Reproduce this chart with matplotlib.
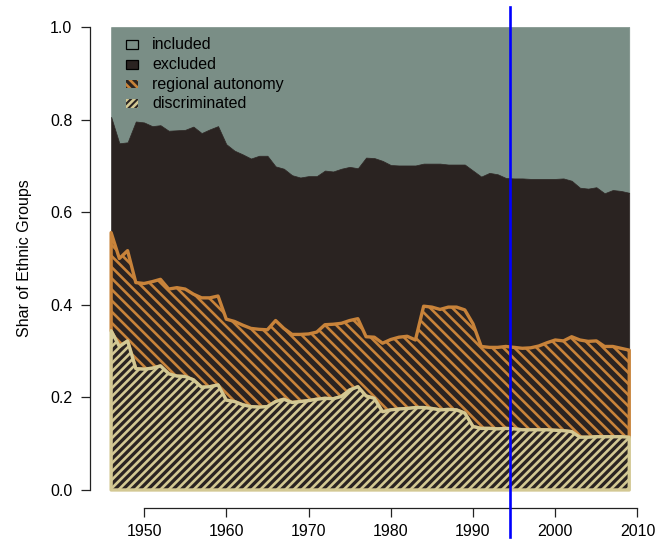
import numpy as np
import matplotlib
matplotlib.use("Agg")
import matplotlib.pyplot as plt
from matplotlib.patches import Rectangle

# Yearly shares of ethnic groups by political status
years = np.arange(1946, 2010)

discriminated = [
    0.344, 0.310, 0.322, 0.262, 0.261, 0.263, 0.268, 0.251, 0.246, 0.245,
    0.238, 0.222, 0.223, 0.227, 0.194, 0.191, 0.184, 0.180, 0.179, 0.180,
    0.191, 0.196, 0.189, 0.191, 0.193, 0.196, 0.198, 0.197, 0.202, 0.216,
    0.223, 0.203, 0.198, 0.169, 0.173, 0.175, 0.176, 0.178, 0.178, 0.176,
    0.173, 0.174, 0.173, 0.166, 0.137, 0.133, 0.133, 0.132, 0.133, 0.132,
    0.130, 0.130, 0.130, 0.130, 0.129, 0.128, 0.126, 0.114, 0.114, 0.115,
    0.115, 0.115, 0.115, 0.114,
]
regional_autonomy = [
    0.212, 0.190, 0.195, 0.186, 0.185, 0.187, 0.187, 0.183, 0.191, 0.189,
    0.185, 0.193, 0.192, 0.192, 0.175, 0.173, 0.172, 0.169, 0.168, 0.166,
    0.175, 0.153, 0.147, 0.145, 0.144, 0.145, 0.159, 0.161, 0.158, 0.150,
    0.147, 0.128, 0.132, 0.148, 0.152, 0.155, 0.156, 0.146, 0.219, 0.219,
    0.217, 0.221, 0.222, 0.223, 0.222, 0.177, 0.175, 0.176, 0.177, 0.176,
    0.176, 0.177, 0.181, 0.188, 0.195, 0.194, 0.205, 0.210, 0.207, 0.207,
    0.195, 0.195, 0.191, 0.188,
]
excluded = [
    0.250, 0.249, 0.234, 0.348, 0.348, 0.336, 0.333, 0.342, 0.340, 0.344,
    0.362, 0.356, 0.364, 0.367, 0.378, 0.369, 0.369, 0.367, 0.375, 0.376,
    0.333, 0.345, 0.344, 0.339, 0.341, 0.337, 0.333, 0.330, 0.334, 0.332,
    0.325, 0.387, 0.387, 0.394, 0.377, 0.371, 0.369, 0.377, 0.308, 0.310,
    0.315, 0.308, 0.308, 0.314, 0.331, 0.367, 0.377, 0.374, 0.364, 0.365,
    0.367, 0.365, 0.361, 0.354, 0.348, 0.351, 0.337, 0.329, 0.330, 0.332,
    0.331, 0.338, 0.340, 0.340,
]
included = [
    0.194, 0.251, 0.249, 0.204, 0.206, 0.214, 0.212, 0.224, 0.223, 0.222,
    0.215, 0.229, 0.221, 0.214, 0.253, 0.267, 0.275, 0.284, 0.278, 0.278,
    0.301, 0.306, 0.320, 0.325, 0.322, 0.322, 0.310, 0.312, 0.306, 0.302,
    0.305, 0.282, 0.283, 0.289, 0.298, 0.299, 0.299, 0.299, 0.295, 0.295,
    0.295, 0.297, 0.297, 0.297, 0.310, 0.323, 0.315, 0.318, 0.326, 0.327,
    0.327, 0.328, 0.328, 0.328, 0.328, 0.327, 0.332, 0.347, 0.349, 0.346,
    0.359, 0.352, 0.354, 0.358,
]

labels = ["included", "excluded", "regional autonomy", "discriminated"]
y_ticks = [0.0, 0.2, 0.4, 0.6, 0.8, 1.0]
x_ticks = [1950, 1960, 1970, 1980, 1990, 2000, 2010]
marker_year = 1994.5

C_INC = "#7a8e86"
C_EXC = "#2a2321"
C_REG = "#c8833a"
C_DIS = "#d3c893"

plt.rcParams["font.family"] = ["Liberation Sans", "DejaVu Sans"]
plt.rcParams["hatch.linewidth"] = 1.9
FS = 11.5

fig = plt.figure(figsize=(6.58, 5.46), dpi=100)
ax = fig.add_axes([0.1374, 0.0687, 0.8504, 0.9157])

d = np.array(discriminated)
r = d + np.array(regional_autonomy)
e = r + np.array(excluded)
t = e + np.array(included)

ax.fill_between(years, e, t, facecolor=C_INC, edgecolor=C_INC, lw=0.5)
ax.fill_between(years, r, e, facecolor=C_EXC, edgecolor=C_EXC, lw=0.5)
ax.fill_between(years, d, r, facecolor=C_EXC, edgecolor=C_REG,
                hatch="\\\\\\", lw=0)
ax.fill_between(years, d, r, facecolor="none", edgecolor=C_REG, lw=2.4)
ax.fill_between(years, 0, d, facecolor=C_EXC, edgecolor=C_DIS,
                hatch="////", lw=0)
ax.fill_between(years, 0, d, facecolor="none", edgecolor=C_DIS, lw=2.4)

ax.axvline(marker_year, ymin=-0.057, ymax=1.003, clip_on=False,
           color="#0000ff", lw=1.9, zorder=5)

ax.set_xlim(1943.48, 2011.52)
ax.set_ylim(-0.04, 1.04)
for s in ("top", "right"):
    ax.spines[s].set_visible(False)
ax.spines["left"].set_bounds(0, 1)
ax.spines["bottom"].set_bounds(1950, 2010)
for s in ("left", "bottom"):
    ax.spines[s].set_linewidth(0.9)
    ax.spines[s].set_color("#222222")

ax.set_yticks(y_ticks)
ax.set_yticklabels([f"{v:.1f}" for v in y_ticks])
ax.set_xticks(x_ticks)
ax.set_xticklabels([str(v) for v in x_ticks])
ax.tick_params(axis="both", length=6.5, width=0.9, color="#222222",
               labelsize=FS, labelcolor="black")
ax.tick_params(axis="y", pad=6.5)
ax.tick_params(axis="x", pad=4.5)
ax.set_ylabel("Shar of Ethnic Groups", fontsize=FS, labelpad=13)

# legend drawn as boxes and labels in axes coordinates
W, H = 560.0, 500.0
box_x0 = (126 - 90.4) / W
box_w = 11.7 / W
box_h = 8.5 / H
text_x = (152.3 - 90.4) / W
rows = [44.3, 64.3, 84.0, 103.6]
styles = [
    dict(facecolor=C_INC, edgecolor="black", lw=0.9),
    dict(facecolor=C_EXC, edgecolor="black", lw=0.9),
    dict(facecolor=C_EXC, edgecolor=C_REG, hatch="\\\\\\\\", lw=0),
    dict(facecolor=C_EXC, edgecolor=C_DIS, hatch="/////", lw=0),
]
for lab, yp, st in zip(labels, rows, styles):
    yc = (508.5 - yp) / H
    ax.add_patch(Rectangle((box_x0, yc - box_h / 2), box_w, box_h,
                           transform=ax.transAxes, zorder=6, **st))
    ax.text(text_x, yc, lab, transform=ax.transAxes, fontsize=FS,
            va="center", ha="left", color="black", zorder=6)

fig.savefig("out.png", dpi=100)
